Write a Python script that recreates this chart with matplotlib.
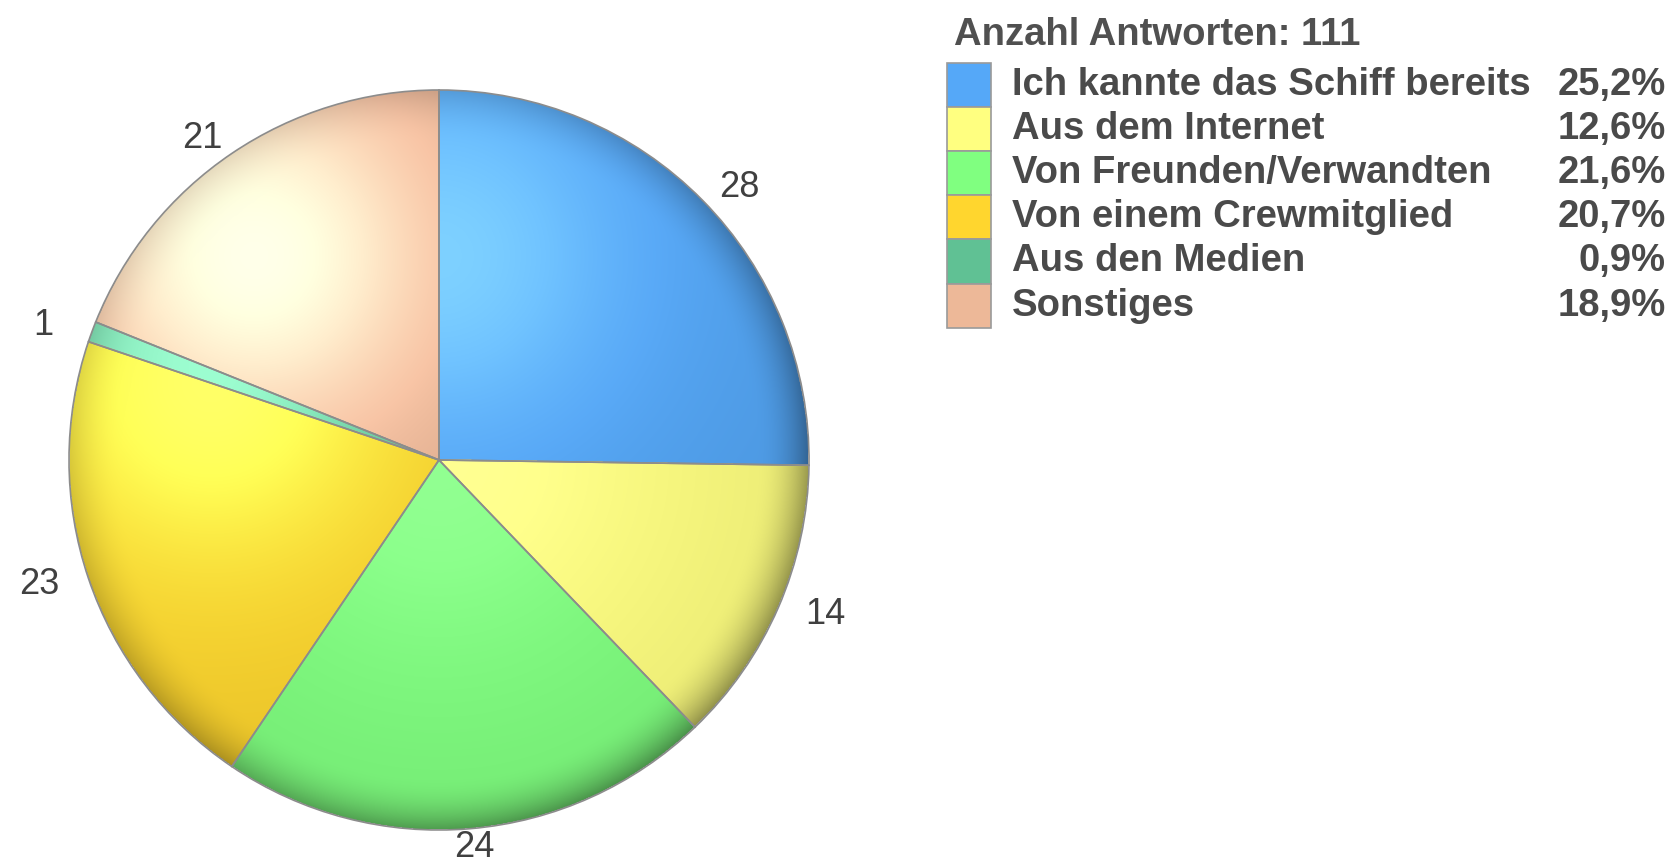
import numpy as np
import matplotlib
matplotlib.use("Agg")
import matplotlib.pyplot as plt
from matplotlib.patches import Rectangle, Circle
from matplotlib.colors import to_rgb

# ----------------------------
# Data
# ----------------------------
labels = ["Ich kannte das Schiff bereits", "Aus dem Internet", "Von Freunden/Verwandten",
          "Von einem Crewmitglied", "Aus den Medien", "Sonstiges"]
counts = [28, 14, 24, 23, 1, 21]
colors = ["#55A8F8", "#FFFF80", "#80FF80", "#FFD62E", "#60C194", "#EDB898"]
title = "Anzahl Antworten: %d" % sum(counts)

plt.rcParams["font.family"] = ["Liberation Sans", "DejaVu Sans"]

W, H = 1675, 867
fig = plt.figure(figsize=(W / 100, H / 100), dpi=100)

# ----------------------------
# Pie
# ----------------------------
cx, cy, R = 439, 460, 370
ax = fig.add_axes([(cx - R) / W, 1 - (cy + R) / H, 2 * R / W, 2 * R / H])

wedges, _ = ax.pie(
    counts, colors=colors, startangle=90, counterclock=False,
    wedgeprops=dict(edgecolor="#8c8c8c", linewidth=1.2),
)

# count labels on an ellipse around the pie
for w, n in zip(wedges, counts):
    mid = np.radians((w.theta1 + w.theta2) / 2)
    ax.text(1.14 * np.cos(mid), 1.05 * np.sin(mid), str(n), fontsize=26, color="#404040",
            ha="center", va="center", clip_on=False)

# shaded fill (light from upper left, darker rim)
N = 800
g = np.linspace(-1, 1, N)
X, Y = np.meshgrid(g, g)
r = np.hypot(X, Y)
ang = np.degrees(np.arctan2(Y, X)) % 360
img = np.zeros((N, N, 4))
L = np.array([-0.5, 0.55])

def closest_in_wedge(t1, t2):
    a = np.degrees(np.arctan2(L[1], L[0])) % 360
    if (a - t1) % 360 <= (t2 - t1) % 360 and np.hypot(*L) <= 1:
        return L
    best, bd = None, 9
    for t in (t1, t2):
        d = np.array([np.cos(np.radians(t)), np.sin(np.radians(t))])
        p = d * np.clip(L @ d, 0, 1)
        dist = np.hypot(*(p - L))
        if dist < bd:
            best, bd = p, dist
    return best

rim_dir = np.cos(np.radians(ang + 45))
rim = np.clip((r - 0.86) / 0.14, 0, 1) ** 2 * (0.10 + 0.25 * (rim_dir + 1) / 2)
for w, c in zip(wedges, colors):
    t1, t2 = w.theta1 % 360, w.theta2 % 360
    m = ((ang - t1) % 360 <= (t2 - t1) % 360) & (r <= 1.0)
    h = closest_in_wedge(t1, t2)
    strength = 0.32 * np.exp(-(np.hypot(*(h - L)) / 0.6) ** 2)
    d = np.hypot(X - h[0], Y - h[1])
    hl = strength * np.exp(-(d / 0.45) ** 2)
    dk = 0.12 * np.clip((d - 0.3) / 1.1, 0, 1)
    base = np.array(to_rgb(c))
    col = np.clip(base[None, None, :] + hl[..., None], 0, 1)
    col = col * (1 - dk - rim)[..., None]
    img[m, :3] = col[m]
    img[m, 3] = 1
    w.set_facecolor("none")
    w.set_zorder(3)

im = ax.imshow(img, extent=(-1, 1, -1, 1), origin="lower", zorder=1, interpolation="bilinear")
im.set_clip_path(Circle((0, 0), 1.0, transform=ax.transData))
ax.set_xlim(-1, 1)
ax.set_ylim(-1, 1)
ax.set_aspect("equal")
ax.axis("off")

# ----------------------------
# Legend (pixel coords)
# ----------------------------
lg = fig.add_axes([0, 0, 1, 1])
lg.set_xlim(0, W)
lg.set_ylim(H, 0)
lg.axis("off")

lg.text(954, 45, title, fontsize=27.5, fontweight="bold", color="#505050", va="baseline")
row_h = 44.1
for i, (lab, c, n) in enumerate(zip(labels, colors, counts)):
    top = 63 + i * row_h
    lg.add_patch(Rectangle((947, top), 44, row_h, facecolor=c, edgecolor="#9a9a9a", linewidth=1.2))
    pct = ("%.1f%%" % (100 * n / sum(counts))).replace(".", ",")
    lg.text(1012, top + 32, lab, fontsize=27.5, fontweight="bold", color="#4a4a4a", va="baseline")
    lg.text(1666, top + 32, pct, fontsize=27.5, fontweight="bold", color="#4a4a4a", va="baseline", ha="right")

fig.savefig("out.png", dpi=100, facecolor="white")
